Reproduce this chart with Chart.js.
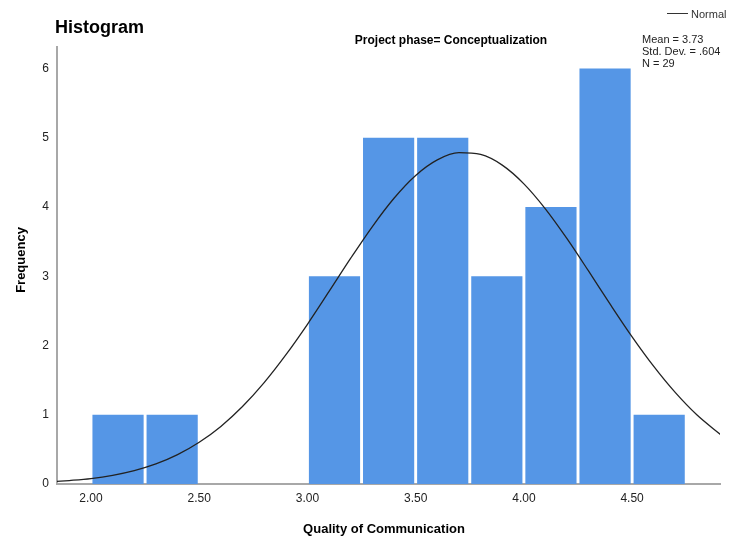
<!DOCTYPE html>
<html>
<head>
<meta charset="utf-8">
<script src="https://cdn.jsdelivr.net/npm/chart.js@4/dist/chart.umd.min.js"></script>
<style>
  html, body { margin: 0; padding: 0; background: #fff; }
</style>
</head>
<body>
<canvas id="chart" width="738" height="542"></canvas>
<script>
// histogram bins (width .25) and counts
const binCenters = [2.125, 2.375, 2.625, 2.875, 3.125, 3.375, 3.625, 3.875, 4.125, 4.375, 4.625];
const frequencies = [1, 1, 0, 0, 3, 5, 5, 3, 4, 6, 1];

// normal curve
const curveX = [1.84, 1.9, 2.0, 2.1, 2.2, 2.3, 2.4, 2.5, 2.6, 2.7, 2.8, 2.9, 3.0, 3.1, 3.2, 3.3, 3.4, 3.5,
  3.6, 3.7, 3.8, 3.9, 4.0, 4.1, 4.2, 4.3, 4.4, 4.5, 4.6, 4.7, 4.8, 4.91];
const curveY = [0.036, 0.05, 0.079, 0.126, 0.194, 0.29, 0.424, 0.603, 0.832, 1.119, 1.464, 1.864, 2.306,
  2.78, 3.26, 3.718, 4.126, 4.455, 4.68, 4.784, 4.758, 4.604, 4.334, 3.97, 3.539, 3.069, 2.589, 2.125,
  1.698, 1.319, 0.996, 0.71];

const xTicks = [2.0, 2.5, 3.0, 3.5, 4.0, 4.5];
const yTicks = [0, 1, 2, 3, 4, 5, 6];

const chartTitle = "Histogram";
const panelTitle = "Project phase= Conceptualization";
const statLines = ["Mean = 3.73", "Std. Dev. = .604", "N = 29"];
const legendLabel = "Normal";
const xTitle = "Quality of Communication";
const yTitle = "Frequency";

const FONT = "'Liberation Sans', Arial, sans-serif";
const axisGray = "#a8a8a8";

const textPlugin = {
  id: "spssText",
  afterDraw(chart) {
    const ctx = chart.ctx;
    ctx.save();
    ctx.fillStyle = "#000";
    ctx.textBaseline = "alphabetic";

    ctx.font = "bold 18px " + FONT;
    ctx.textAlign = "left";
    ctx.fillText(chartTitle, 55, 33);

    ctx.font = "bold 12px " + FONT;
    ctx.textAlign = "center";
    ctx.fillText(panelTitle, 451, 44);

    ctx.font = "11px " + FONT;
    ctx.textAlign = "left";
    ctx.fillStyle = "#222";
    statLines.forEach((s, i) => ctx.fillText(s, 642, 43 + i * 12));

    // legend
    ctx.strokeStyle = "#333";
    ctx.lineWidth = 1;
    ctx.beginPath();
    ctx.moveTo(667, 13.5);
    ctx.lineTo(688, 13.5);
    ctx.stroke();
    ctx.fillStyle = "#333";
    ctx.fillText(legendLabel, 691, 18);

    // axis titles
    ctx.fillStyle = "#000";
    ctx.font = "bold 13px " + FONT;
    ctx.textAlign = "center";
    ctx.fillText(xTitle, 384, 533);
    ctx.translate(25, 260);
    ctx.rotate(-Math.PI / 2);
    ctx.fillText(yTitle, 0, 0);
    ctx.restore();
  }
};

new Chart(document.getElementById("chart"), {
  type: "bar",
  data: {
    datasets: [
      {
        type: "line",
        data: curveX.map((x, i) => ({ x: x, y: curveY[i] })),
        borderColor: "#222",
        borderWidth: 1.3,
        pointRadius: 0,
        fill: false,
        cubicInterpolationMode: "monotone"
      },
      {
        type: "bar",
        data: binCenters.map((x, i) => ({ x: x, y: frequencies[i] })),
        backgroundColor: "#5596e6",
        borderWidth: 0,
        barPercentage: 0.946,
        categoryPercentage: 1
      }
    ]
  },
  options: {
    responsive: false,
    animation: false,
    devicePixelRatio: 1,
    layout: { padding: { top: 47, right: 18, left: 0, bottom: 0 } },
    plugins: {
      legend: { display: false },
      title: { display: false },
      tooltip: { enabled: false }
    },
    scales: {
      x: {
        type: "linear",
        offset: false,
        min: 1.843,
        max: 4.906,
        grid: { display: false, drawTicks: false, offset: false },
        border: { display: true, color: axisGray, width: 2 },
        afterBuildTicks: (scale) => { scale.ticks = xTicks.map(v => ({ value: v })); },
        afterFit: (scale) => { scale.height = 58; },
        ticks: {
          padding: 7,
          maxRotation: 0,
          color: "#222",
          font: { family: FONT, size: 12 },
          callback: (v) => Number(v).toFixed(2)
        }
      },
      y: {
        min: 0,
        max: 6.31,
        grid: { display: false, drawTicks: false },
        border: { display: true, color: axisGray, width: 2 },
        afterBuildTicks: (scale) => { scale.ticks = yTicks.map(v => ({ value: v })); },
        afterFit: (scale) => { scale.width = 57; },
        ticks: {
          padding: 8,
          color: "#222",
          font: { family: FONT, size: 12 }
        }
      }
    }
  },
  plugins: [textPlugin]
});
</script>
</body>
</html>
